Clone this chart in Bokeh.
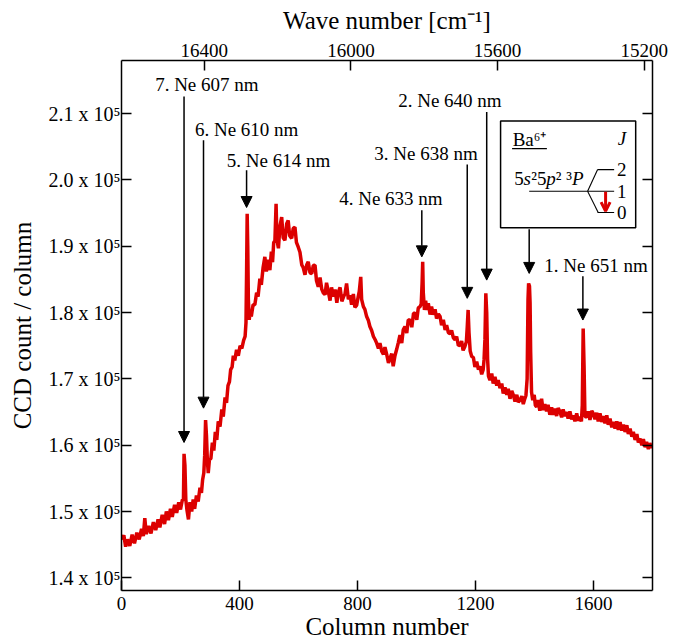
from bokeh.plotting import figure
from bokeh.models import (Range1d, LinearAxis, FixedTicker, CustomJSTickFormatter,
                          Arrow, NormalHead, OpenHead, ColumnDataSource)
from bokeh.core.properties import value
from bokeh.embed import file_html
from bokeh.resources import INLINE

FONT = "Liberation Serif"
RED = "#dc0000"

# ---------------- data ----------------
column = [0, 8, 14, 20, 28, 36, 44, 52, 60, 68, 74, 79, 84, 92, 100, 108, 116, 124, 130, 138,
          146, 152, 159, 166, 172, 180, 187, 194, 200, 206, 210, 212, 215, 218, 222, 227, 232,
          238, 243, 248, 254, 260, 266, 271, 275, 279, 282, 285, 288, 291, 294, 298, 303, 308,
          313, 318, 323, 328, 334, 340, 345, 351, 356, 361, 366, 370, 375, 379, 384, 390, 396,
          402, 408, 414, 419, 422, 424, 426, 428, 430, 433, 436, 440, 446, 452, 458, 463, 469,
          474, 480, 486, 491, 495, 500, 503, 508, 512, 516, 520, 524, 527, 532, 537, 543, 548,
          554, 560, 565, 570, 577, 582, 588, 593, 599, 605, 611, 616, 622, 628, 633, 639, 645,
          650, 656, 661, 667, 673, 679, 684, 690, 695, 701, 707, 712, 718, 724, 730, 735, 741,
          747, 752, 758, 763, 769, 775, 780, 786, 791, 797, 802, 806, 811, 814, 820, 825, 831,
          837, 842, 848, 854, 860, 865, 871, 876, 882, 888, 893, 899, 905, 910, 916, 921, 927,
          933, 938, 944, 950, 955, 961, 967, 972, 978, 984, 990, 995, 1001, 1006, 1012, 1016,
          1019, 1021, 1023, 1027, 1031, 1035, 1040, 1046, 1051, 1057, 1063, 1068, 1074, 1080,
          1085, 1091, 1097, 1102, 1108, 1114, 1119, 1125, 1131, 1136, 1142, 1147, 1153, 1158,
          1164, 1169, 1172, 1175, 1178, 1182, 1187, 1193, 1198, 1204, 1210, 1215, 1221, 1226,
          1229, 1232, 1235, 1238, 1241, 1244, 1249, 1255, 1260, 1266, 1272, 1277, 1283, 1289,
          1294, 1300, 1306, 1311, 1317, 1323, 1328, 1334, 1340, 1345, 1351, 1357, 1362, 1367,
          1371, 1375, 1378, 1380, 1383, 1385, 1387, 1390, 1394, 1399, 1403, 1407, 1412, 1418,
          1424, 1429, 1435, 1441, 1446, 1452, 1458, 1464, 1469, 1475, 1480, 1486, 1492, 1497,
          1503, 1509, 1514, 1520, 1526, 1532, 1537, 1543, 1548, 1554, 1559, 1562, 1565, 1568,
          1571, 1577, 1582, 1588, 1594, 1599, 1605, 1611, 1616, 1622, 1628, 1633, 1639, 1645,
          1650, 1656, 1662, 1667, 1673, 1679, 1684, 1690, 1696, 1701, 1707, 1713, 1718, 1724,
          1730, 1735, 1741, 1747, 1752, 1758, 1764, 1769, 1775, 1780, 1786, 1791, 1797, 1800]

counts = [145800, 146400, 144700, 145800, 144800, 146500, 145200, 146800, 145800, 147400, 146300,
          149000, 146600, 147800, 146700, 148400, 147200, 148800, 147600, 149500, 148100, 150000,
          148700, 150400, 149200, 151000, 149800, 151400, 150300, 151700, 151900, 158700, 157000,
          151800, 150200, 148800, 151400, 150000, 151800, 150400, 152400, 151500, 153600, 152800,
          154800, 155800, 158500, 163800, 161500, 157800, 155800, 157800, 158000, 160400, 159200,
          162000, 160800, 163600, 162800, 165400, 164300, 167200, 166400, 169000, 169600, 171400,
          171800, 173500, 172800, 174400, 173500, 175000, 174600, 175800, 176400, 178500, 186000,
          194900, 190000, 182000, 178900, 180200, 179400, 181200, 181200, 183000, 182400, 185100,
          184200, 186800, 188400, 186200, 188000, 187100, 186400, 189200, 187600, 190600, 190800,
          196400, 190900, 189700, 193000, 194400, 191300, 190900, 193400, 193900, 191600, 191200,
          192700, 192900, 190600, 189900, 189100, 187200, 186800, 185700, 187200, 187650, 186000,
          185900, 187100, 187150, 184800, 183900, 185300, 183500, 183000, 182700, 184500, 183200,
          181800, 183800, 182400, 183500, 181500, 183100, 183800, 181700, 182300, 182900, 184400,
          182000, 182600, 181200, 182800, 180800, 181100, 182300, 183200, 185400, 182000, 180900,
          180500, 179400, 178800, 177900, 177300, 176400, 175900, 175400, 174600, 175400, 174200,
          173700, 174800, 173700, 172400, 173100, 173800, 171900, 173500, 174500, 175400, 176600,
          175400, 177400, 177900, 176900, 178900, 178900, 177800, 179900, 179900, 178900, 180700,
          180900, 181300, 184500, 187650, 183000, 180400, 181800, 180400, 181400, 179700, 180900,
          179700, 180500, 179100, 179800, 179400, 178100, 178900, 177400, 178100, 177000, 176800,
          177300, 176200, 175900, 176400, 175000, 175100, 175700, 174300, 174900, 175600, 177800,
          180400, 177000, 174200, 173400, 173200, 171800, 172600, 171400, 171900, 170700, 171400,
          172900, 176000, 182900, 180000, 173000, 170400, 169800, 170800, 169300, 170300, 169000,
          169800, 168600, 169300, 167800, 168700, 167600, 168500, 167000, 168200, 167600, 166600,
          167600, 166500, 166800, 167400, 166200, 167000, 167500, 170000, 182000, 184400, 184000,
          181500, 174000, 168000, 166800, 167600, 166000, 165800, 166800, 165200, 167000, 165300,
          166200, 165100, 166100, 164600, 165700, 164600, 165500, 164400, 165600, 165100, 164200,
          165400, 164400, 165000, 164000, 165100, 163900, 164500, 163600, 164800, 163700, 164300,
          163600, 166000, 177600, 172000, 164300, 164300, 165100, 163800, 165200, 164800, 163900,
          164900, 163600, 164800, 163500, 164400, 163300, 164500, 163100, 164000, 162700, 163500,
          162500, 163600, 162300, 163500, 162200, 163100, 162000, 163000, 161700, 162500, 161300,
          162000, 160800, 161700, 160400, 161000, 160000, 160900, 159700, 160500, 159400, 160300,
          159600, 160000]

x_ticks = [0, 400, 800, 1200, 1600]
y_ticks = [140000, 150000, 160000, 170000, 180000, 190000, 200000, 210000]
wn_ticks = [16400, 16000, 15600, 15200]

# Ne calibration line labels
line_labels = ["1. Ne 651 nm", "2. Ne 640 nm", "3. Ne 638 nm", "4. Ne 633 nm",
               "5. Ne 614 nm", "6. Ne 610 nm", "7. Ne 607 nm"]
label_col = [1433, 938, 857, 738, 357, 249, 114]
label_val = [187160, 212000, 204020, 197200, 202970, 207630, 214410]
arrow_col = [1564, 1238, 1172, 1018, 424, 278, 212, 1382]
arrow_top = [185500, 210240, 202320, 195440, 201460, 205980, 212600, 192580]
arrow_tip = [178880, 184900, 182150, 188410, 195850, 165590, 160410, 185910]

# ---------------- figure ----------------
p = figure(width=687, height=642, x_range=Range1d(0, 1800), y_range=Range1d(138088, 218023),
           output_backend="svg", toolbar_location=None,
           min_border_left=121, min_border_right=35, min_border_top=60, min_border_bottom=51,
           x_axis_location="below", y_axis_location="left")
p.extra_x_ranges = {"wn": Range1d(16625.6, 15177.5)}
p.xgrid.visible = False
p.ygrid.visible = False
p.outline_line_color = None
p.background_fill_color = "white"
p.border_fill_color = "white"


def style_axis(ax, tick_font="19px"):
    ax.axis_line_color = "black"
    ax.axis_line_width = 1.5
    ax.major_tick_line_color = "black"
    ax.major_tick_line_width = 1.5
    ax.major_tick_in = 10
    ax.major_tick_out = 0
    ax.minor_tick_in = 0
    ax.minor_tick_out = 0
    ax.minor_tick_line_color = None
    ax.major_label_text_font = FONT
    ax.major_label_text_font_size = tick_font
    ax.major_label_text_color = "black"
    ax.axis_label_text_font = FONT
    ax.axis_label_text_font_size = "25px"
    ax.axis_label_text_font_style = "normal"
    ax.axis_label_text_color = "black"


xa = p.xaxis[0]
xa.ticker = FixedTicker(ticks=x_ticks)
xa.axis_label = "Column number"
style_axis(xa)
xa.major_label_standoff = 6
xa.axis_label_standoff = 0

ya = p.yaxis[0]
ya.ticker = FixedTicker(ticks=y_ticks)
ya.formatter = CustomJSTickFormatter(code="return (tick/1e5).toFixed(1) + ' x 10\u2075';")
ya.axis_label = "CCD count / column"
style_axis(ya, tick_font="20px")
ya.major_label_standoff = 1
ya.axis_label_standoff = 10

top = LinearAxis(x_range_name="wn", ticker=FixedTicker(ticks=wn_ticks),
                 axis_label="Wave number [cm\u207b\u00b9]")
style_axis(top)
top.major_label_standoff = 4
top.axis_label_standoff = 7
p.add_layout(top, "above")

right = LinearAxis(ticker=FixedTicker(ticks=y_ticks),
                   formatter=CustomJSTickFormatter(code="return '';"))
style_axis(right)
right.major_label_standoff = 0
p.add_layout(right, "right")

# spectrum
p.line(column, counts, line_color=RED, line_width=3.5)

# labels and arrows
p.text(x=label_col, y=label_val, text=line_labels, text_font=value(FONT),
       text_font_size="19px", text_baseline="middle", text_align="left", text_color="black")
asrc = ColumnDataSource(dict(x0=arrow_col, y0=arrow_top, x1=arrow_col, y1=arrow_tip))
p.add_layout(Arrow(source=asrc, x_start="x0", y_start="y0", x_end="x1", y_end="y1",
                   line_color="black", line_width=1.5,
                   end=NormalHead(size=11, fill_color="black", line_color="black", line_width=1)))

# ---------------- inset: Ba6+ level scheme ----------------
p.quad(left=[1285], right=[1743], top=[208910], bottom=[192780],
       fill_color="white", line_color="black", line_width=1.5)
p.text(x=[1326], y=[206090], text=["Ba\u2076\u207a"], text_font=value(FONT),
       text_font_size="19px", text_baseline="middle", text_align="left")
p.segment(x0=[1324], y0=[204730], x1=[1442], y1=[204730], line_color="black", line_width=1.2)
p.text(x=[1682], y=[206190], text=["J"], text_font=value(FONT), text_font_style="italic",
       text_font_size="19px", text_baseline="middle", text_align="left")
# levels J = 2, 1, 0
p.segment(x0=[1614, 1382, 1614, 1580, 1580], y0=[201570, 198300, 195090, 198300, 198300],
          x1=[1670, 1670, 1670, 1614, 1616], y1=[201570, 198300, 195090, 201570, 195090],
          line_color="black", line_width=1.1)
p.text(x=[1680, 1680, 1680], y=[201570, 198300, 195090], text=["2", "1", "0"],
       text_font=value(FONT), text_font_size="19px", text_baseline="middle", text_align="left")
# configuration label 5s2 5p2 3P
cfg_x = [1331, 1363, 1389, 1440, 1472, 1527]
cfg_t = ["5", "s", "\u00b25", "p", "\u00b2 \u00b3", "P"]
cfg_s = ["normal", "italic", "normal", "italic", "normal", "italic"]
for cx, ct, cs in zip(cfg_x, cfg_t, cfg_s):
    p.text(x=[cx], y=[200170], text=[ct], text_font=value(FONT), text_font_style=cs,
           text_font_size="19px", text_baseline="middle", text_align="left")
p.add_layout(Arrow(x_start=1641, y_start=198220, x_end=1641, y_end=195300,
                   line_color=RED, line_width=3,
                   end=OpenHead(size=9, line_color=RED, line_width=3)))

open("out.html", "w").write(file_html(p, INLINE))
